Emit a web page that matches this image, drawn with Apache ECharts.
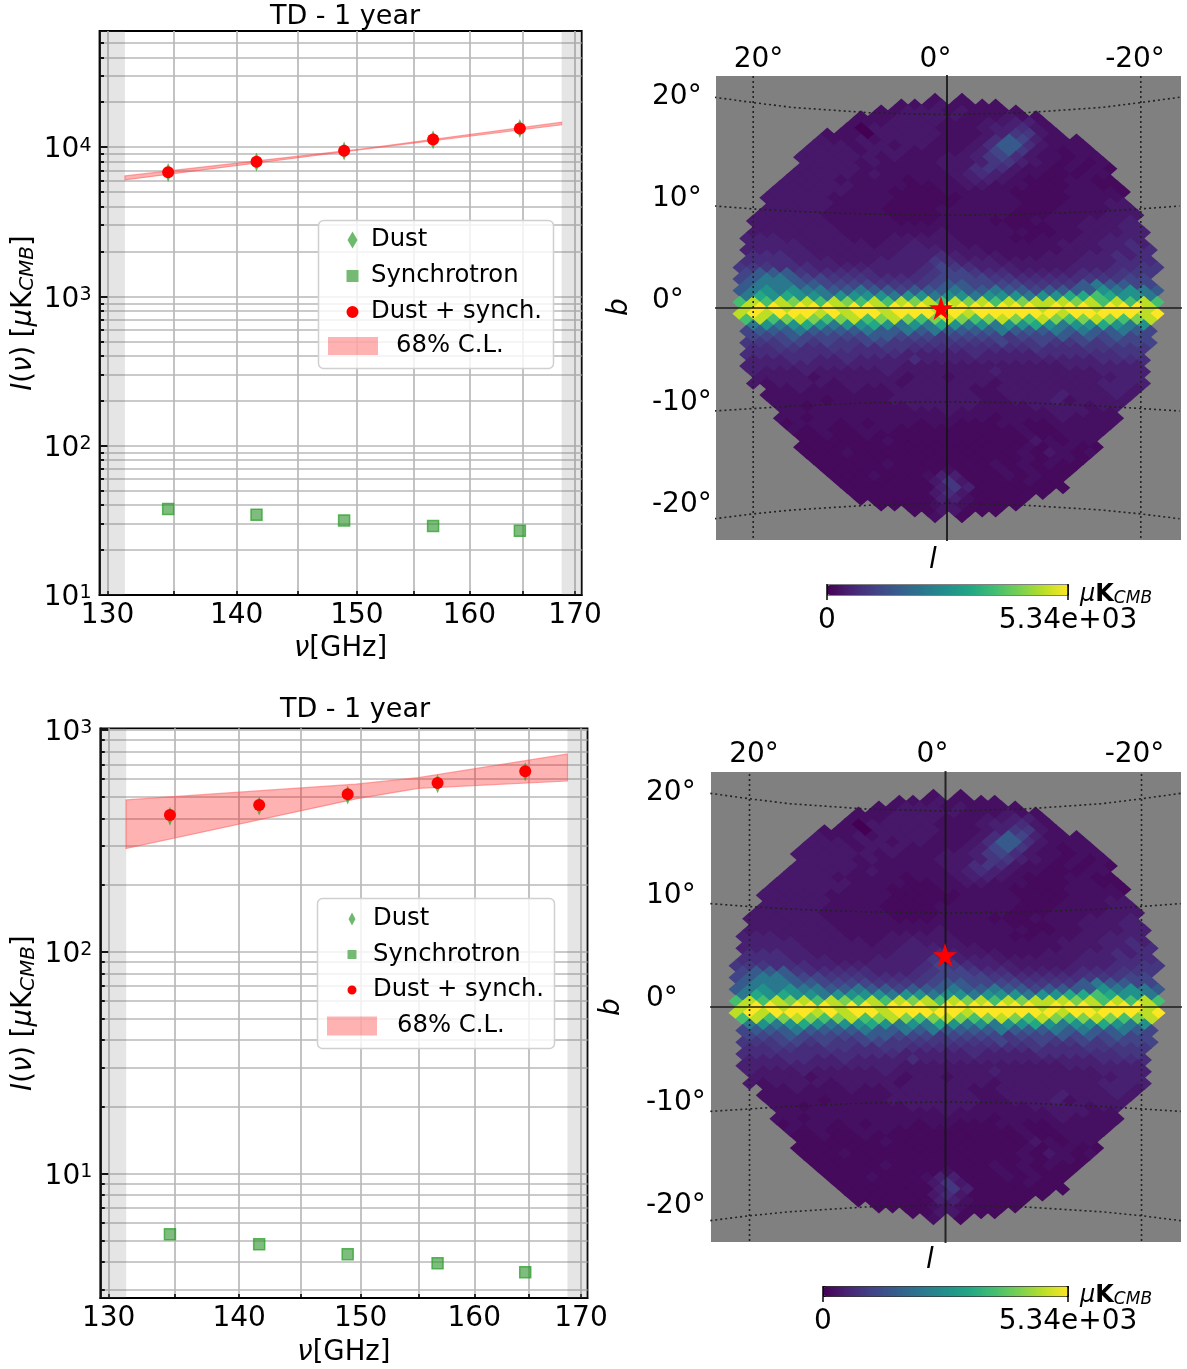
<!DOCTYPE html>
<html><head><meta charset="utf-8">
<style>html,body{margin:0;padding:0;background:#fff}#c{width:1187px;height:1369px}</style>
<script src="https://cdn.jsdelivr.net/npm/echarts@6/dist/echarts.min.js"></script>
</head><body><div id="c"></div>
<script>
// ---------- spectra ----------
const freqs = [134.6, 141.6, 148.9, 156.7, 164.7];
const dust1 = [6762, 7945, 9430, 11230, 13313];
const synch1 = [37.7, 34.5, 31.6, 29.0, 26.9];
const total1 = [6800, 7980, 9460, 11260, 13340];
const dust2 = [409, 454, 509, 573, 648];
const synch2 = [5.33, 4.81, 4.34, 3.95, 3.6];
const total2 = [414, 459, 513, 577, 652];
const clFreq1 = [131.3, 150.5, 168.7];
const clUpper1 = [6414, 9750, 14710];
const clLower1 = [6032, 9650, 14125];
const clFreq2 = [131.28, 149.6, 155, 168.7];
const clUpper2 = [484, 570, 610, 780];
const clLower2 = [292, 489, 546, 589];
const xTicks = [130,135,140,145,150,155,160,165,170];
const xLabels = [130,140,150,160,170];
const yTicks1 = [10,20,30,40,50,60,70,80,90,100,200,300,400,500,600,700,800,900,1000,2000,3000,4000,5000,6000,7000,8000,9000,10000,20000,30000,40000,50000];
const yTicks2 = [3,4,5,6,7,8,9,10,20,30,40,50,60,70,80,90,100,200,300,400,500,600,700,800,900,1000];
const yMajor1 = [10,100,1000,10000];
const yMajor2 = [10,100,1000];
const lowBand = [129.38, 131.3];
const highBand = [168.7, 170.65];
// ---------- sky map: level of each pixel, row by row (north to south), [first column, levels] ----------
const levelValues = [0,130,230,340,480,670,850,1090,1500,2140,2670,3200,3740,4270,4800,5340];
const mapRows = [
[15,"2 2"],[12,"22232222"],[11,"22333232222"],[9,"22233333222322"],[9,"222333322233442"],
[8,"2033333222344532"],[7,"222033333222346632"],[6,"32232333322235874222"],[6,"333233233222358853222"],
[5,"3333233322223478632122"],[5,"33333323222334675322122"],[5,"33332322223334664321212"],
[5,"333332222223356532212121"],[4,"333332322222345432211122"],[4,"3333222221222344321112211"],
[3,"33333322221122332221112211"],[3,"333333222111122222111122221"],[2,"333332222211111222211112222"],
[3,"333332222111112222211122233"],[2,"3333322221111222222111222233"],[2,"33333222221111222221112222333"],
[1,"33333322222111222211122223334"],[2,"33333322222222222221112233344"],[1,"333333322222223222222112233344"],
[1,"444333332223333322221122233444"],[1,"444433333233433322222223334454"],[1,"4444433333334443332222223334455"],
[1,"555443333334445433322233344545"],[1,"5555444333444465444333333444555"],[0,"66655544444444576544433334445566"],
[1,"7888655555444567765544444555666"],[0,"7899877666555567777665555566677"],[1,"8999887777666678877776666898877"],
[0,"89a9a9988988788898898878888a9a98"],[1,"9babaa9aaaa9aa9aa9aaa9aabbcbaa9"],[0,"cecedecedcecedecedecedeeedececec"],
[1,"effefffeffefffefffffffefffefffe"],[0,"efefffefeffefffffeffffffefffffef"],[1,"cecdedcdecdedcdedcdedcedcdedcde"],
[1,"9a9aba9aaba9a9ba9a9aaba9aaba9a"],[1,"7888988889889898888988898988987"],[1,"777877777887776777767778787877"],
[1,"6667767667766666666766766767777"],[1,"556655665566555555555655566666"],[1,"555555555555444445444455555566"],
[1,"444554454444544444444444445555"],[1,"444444444444333333333333444444"],[1,"433343333343333333433333334444"],
[2,"33332333333233233333333333344"],[1,"323333233332333333233333334444"],[3,"2232223223333332233333333443"],
[2,"2222222222333333223333433343"],[3,"222212222333333322333423333"],[3,"22122222223333322223333233"],
[4,"2222222222223222222233322"],[3,"22122222222222221222232222"],[4,"1222121222122111221122222"],
[4,"212112221111111112112222"],[5,"11211211111111111211222"],[5,"1111112111111111132122"],
[5,"11111111111111111212211"],[5,"1112111111111111213212"],[6,"111111111111111121221"],
[6,"11111211111112121211"],[7,"1111111112111212111"],[7,"111211124411121211"],[8,"11111113631111211"],
[8,"11111114641111111"],[9,"111111353111111"],[9,"1111114421111"],[11,"11112321111"],[13,"1133111"],[15,"2 1"]
];
const viridis = ['#440154','#482475','#414487','#355f8d','#2a788e','#21918c','#22a884','#44bf70','#7ad151','#bddf26','#fde725'];
const mapMax = 5340;
const parallelLon = [24,20,16,8,0,-8,-16,-20,-24];
const par20 = [21.8,21.25,20.75,20.2,20,20.2,20.75,21.25,21.8];
const par10 = [10.55,10.25,10.0,9.7,9.6,9.7,10.0,10.25,10.55];
const parM10 = [-10.65,-10.4,-10.15,-9.8,-9.7,-9.8,-10.15,-10.4,-10.65];
const parM20 = [-21.8,-21.3,-20.9,-20.4,-20.2,-20.4,-20.9,-21.3,-21.8];
const meridians = [20,-20];
const star1 = [0.62, 0];
const star2 = [0.05, 5.3];
const lonLabels = ['20°','0°','-20°'];
const latLabels = ['20°','10°','0°','-10°','-20°'];
const cbLabels = ['0','5.34e+03'];

const FONT = 'DejaVu Sans', FS = 28;
const GREEN = 'rgba(44,160,44,0.6)';
const STAR = 'path://M50 0L61.8 36.3L100 36.3L69.1 58.8L80.9 95.1L50 72.6L19.1 95.1L30.9 58.8L0 36.3L38.2 36.3Z';

const cells = [];
mapRows.forEach(([start, txt], i) => {
  for (let j = 0; j < txt.length; j++) {
    if (txt[j] === ' ') continue;
    const c = start + j - 16 + (i % 2 ? 0.5 : 0);
    cells.push([-(0.155 + 1.39 * c), 21.6 - 0.6 * i, levelValues[parseInt(txt[j], 16)]]);
  }
});

const supLabel = v => '10{s|' + Math.round(Math.log10(v)) + '}';
const yNameRich = {
  n:{fontFamily:FONT,fontSize:27.5,color:'#000'},
  i:{fontFamily:FONT,fontSize:27.5,fontStyle:'italic',color:'#000'},
  u:{fontFamily:FONT,fontSize:20,fontStyle:'italic',color:'#000',verticalAlign:'bottom',padding:[8,0,0,0]}
};
const yName = '{i|I}{n|(}{i|ν}{n|) [}{i|μ}{n|K}{u|CMB}{n|]}';
const xName = '{i|ν}{n|[GHz]}';
const xNameRich = {n:{fontFamily:FONT,fontSize:27.5,color:'#000'},i:{fontFamily:FONT,fontSize:27.5,fontStyle:'italic',color:'#000'}};

const grids = [
  {left:99.5,top:31,width:482.2,height:564,show:true,borderColor:'#000',borderWidth:1.8,backgroundColor:'#fff'},
  {left:100.3,top:728.3,width:487.2,height:569.7,show:true,borderColor:'#000',borderWidth:1.8,backgroundColor:'#fff'},
  {left:716,top:76,width:465,height:464,show:true,borderWidth:0,backgroundColor:'#808080'},
  {left:711,top:772,width:470,height:470,show:true,borderWidth:0,backgroundColor:'#808080'}
];
const grey = {color:'#b9b9b9',width:1.7};
function specX(i, nameGap, min, max) {
  return {gridIndex:i,type:'log',logBase:10,min,max,name:xName,nameLocation:'middle',nameGap,
    nameTextStyle:{rich:xNameRich},
    axisLine:{show:true,lineStyle:{color:'#000',width:1.8}},
    axisTick:{show:true,inside:true,length:4,customValues:xTicks,lineStyle:{color:'#000',width:1.5}},
    axisLabel:{show:true,customValues:xLabels,margin:7,fontFamily:FONT,fontSize:FS,color:'#000',hideOverlap:false,showMinLabel:true,showMaxLabel:true,formatter:v=>String(Math.round(v))},
    splitLine:{show:true,lineStyle:grey},minorTick:{show:false},minorSplitLine:{show:false}};
}
function specY(i, min, max, ticks, labels) {
  return {gridIndex:i,type:'log',logBase:10,position:'left',min,max,name:yName,nameLocation:'middle',nameGap:62,nameRotate:90,
    nameTextStyle:{rich:yNameRich},
    axisLine:{show:true,onZero:false,lineStyle:{color:'#000',width:1.8}},
    axisTick:{show:true,inside:true,length:4.5,customValues:ticks,lineStyle:{color:'#000',width:2}},
    axisLabel:{show:true,customValues:labels,margin:8,padding:[6,0,0,0],fontFamily:FONT,fontSize:FS,color:'#000',formatter:supLabel,showMinLabel:true,showMaxLabel:true,
      rich:{s:{fontFamily:FONT,fontSize:19,color:'#000',verticalAlign:'top',padding:[0,0,8,0]}}},
    splitLine:{show:true,lineStyle:grey},minorTick:{show:false},minorSplitLine:{show:false}};
}
function specYMajor(i, min, max, labels) {
  return {gridIndex:i,type:'log',logBase:10,position:'left',min,max,
    axisLine:{show:false,onZero:false},axisLabel:{show:false},splitLine:{show:false},
    axisTick:{show:true,inside:true,length:8,customValues:labels,lineStyle:{color:'#000',width:2}}};
}
const xAxes = [specX(0,40,129.4,170.65), specX(1,41,129.38,170.63)];
const yAxes = [specY(0,10,60000,yTicks1,yMajor1), specY(1,2.753,1018,yTicks2,yMajor2)];
function mapAxes(i, l0, l1, b0, b1) {
  xAxes.push({gridIndex:i,type:'value',min:l1,max:l0,inverse:true,show:false,axisLine:{show:false},splitLine:{show:false}});
  yAxes.push({gridIndex:i,type:'value',min:b1,max:b0,show:false,splitLine:{show:false}});
}
mapAxes(2, 23.84, -24.15, 24, -24);
mapAxes(3, 23.93, -24.03, 23.98, -23.98);
yAxes.push(specYMajor(0,10,60000,yMajor1), specYMajor(1,2.753,1018,yMajor2));

const series = [];
function specSeries(i, dust, synch, total, cf, cu, cl) {
  const pts = cf.map((f,k)=>[f,cu[k]]).concat(cf.map((f,k)=>[f,cl[k]]).reverse());
  series.push({name:'68% C.L.',type:'custom',xAxisIndex:i,yAxisIndex:i,silent:true,clip:true,
    data:[[cf[0],cu[0]]],encode:{x:0,y:1},
    renderItem:(p,api)=>({type:'polygon',shape:{points:pts.map(q=>api.coord(q))},
      style:{fill:'rgba(255,0,0,0.3)',stroke:'rgba(255,90,90,0.55)',lineWidth:1.2}}),
    markArea:{silent:true,itemStyle:{color:'rgba(110,110,110,0.18)'},
      data:[[{xAxis:lowBand[0]},{xAxis:lowBand[1]}],[{xAxis:highBand[0]},{xAxis:highBand[1]}]]}});
  series.push({name:'Dust',type:'scatter',xAxisIndex:i,yAxisIndex:i,symbol:'diamond',symbolSize:[8,19],silent:true,
    data:freqs.map((f,k)=>[f,dust[k]]),itemStyle:{opacity:1,color:'rgba(44,160,44,0.75)'}});
  series.push({name:'Synchrotron',type:'scatter',xAxisIndex:i,yAxisIndex:i,symbol:'rect',symbolSize:11,silent:true,
    data:freqs.map((f,k)=>[f,synch[k]]),itemStyle:{opacity:1,color:'rgba(40,145,40,0.6)',borderColor:'rgba(44,160,44,0.75)',borderWidth:1.5}});
  series.push({name:'Dust + synch.',type:'scatter',xAxisIndex:i,yAxisIndex:i,symbol:'circle',symbolSize:12,silent:true,
    data:freqs.map((f,k)=>[f,total[k]]),itemStyle:{opacity:1,color:'#ff0000'}});
}
specSeries(0,dust1,synch1,total1,clFreq1,clUpper1,clLower1);
specSeries(1,dust2,synch2,total2,clFreq2,clUpper2,clLower2);

const vms = [];
function mapSeries(i, star, sz, vmLeft, vmTop, vmLen) {
  vms.push({type:'continuous',seriesIndex:series.length,dimension:2,min:0,max:mapMax,orient:'horizontal',left:vmLeft,top:vmTop,
    itemWidth:10,itemHeight:vmLen,padding:0,text:null,calculable:false,hoverLink:false,borderColor:'#000',borderWidth:1,
    inRange:{color:viridis},textStyle:{color:'transparent',fontSize:1}});
  series.push({name:'map',type:'scatter',xAxisIndex:i,yAxisIndex:i,data:cells,symbol:'diamond',symbolSize:[14.6*sz,12.8*sz],silent:true,
    progressive:0,large:false,itemStyle:{opacity:1,borderWidth:0}});
  const ln = (data,color,width,type)=>series.push({type:'line',xAxisIndex:i,yAxisIndex:i,data,symbol:'none',silent:true,z:3,smooth:false,
    lineStyle:{color,width,type}});
  const dots=[2,3];
  [par20,par10,parM10,parM20].forEach(p=>ln(parallelLon.map((l,k)=>[l,p[k]]),'#222',1.6,dots));
  meridians.forEach(l=>ln([[l,-30],[l,30]],'#222',1.6,dots));
  ln([[0,-30],[0,30]],'rgba(20,20,20,0.85)',2,'solid');
  ln([[-30,0],[30,0]],'rgba(20,20,20,0.7)',2,'solid');
  series.push({name:'star',type:'scatter',xAxisIndex:i,yAxisIndex:i,data:[star],symbol:STAR,symbolSize:24,silent:true,z:4,itemStyle:{opacity:1,color:'#ff0000'}});
}
mapSeries(2,star1,1,827,584.5,241);
mapSeries(3,star2,1.01,823,1286,245);

// legends (marker path padded with invisible corners so that marker keeps its size)
const cornerPath = (w,h)=>`M0 0L.01 0L0 .01Z M${w} ${h}L${w-.01} ${h}L${w} ${h-.01}Z `;
const iconDiamond = (w,h,cx,a,b)=>'path://'+cornerPath(w,h)+`M${cx-a} ${h/2}L${cx} ${h/2-b}L${cx+a} ${h/2}L${cx} ${h/2+b}Z`;
const iconSquare = (w,h,cx,a)=>'path://'+cornerPath(w,h)+`M${cx-a} ${h/2-a}H${cx+a}V${h/2+a}H${cx-a}Z`;
const iconCircle = (w,h,cx,r)=>'path://'+cornerPath(w,h)+`M${cx-r} ${h/2}A${r} ${r} 0 1 1 ${cx+r} ${h/2}A${r} ${r} 0 1 1 ${cx-r} ${h/2}Z`;
const legendText = {fontFamily:FONT,fontSize:24.3,color:'#000'};
const shiftText = Object.assign({padding:[5,0,0,0]},legendText);
const legends = [
  {left:328,top:228,orient:'vertical',itemWidth:38,itemHeight:24,itemGap:12,selectedMode:false,textStyle:shiftText,padding:0,
    data:[{name:'Dust',icon:iconDiamond(38,24,24.5,5,8.5),itemStyle:{color:'#6fb96f',borderWidth:0}},
          {name:'Synchrotron',icon:iconSquare(38,24,24.5,6),itemStyle:{color:'#74b974',borderWidth:0}},
          {name:'Dust + synch.',icon:iconCircle(38,24,24.5,6),itemStyle:{color:'#ff0000',borderWidth:0}}]},
  {left:328,top:334,orient:'vertical',itemWidth:50,itemHeight:18,selectedMode:false,padding:0,
    textStyle:Object.assign({},legendText,{padding:[7,0,0,13]}),
    data:[{name:'68% C.L.',icon:'rect',itemStyle:{color:'rgba(255,0,0,0.3)',borderWidth:0}}]},
  {left:327,top:907,orient:'vertical',itemWidth:41,itemHeight:24,itemGap:11.5,selectedMode:false,textStyle:shiftText,padding:0,
    data:[{name:'Dust',icon:iconDiamond(41,24,25,3.5,6.5),itemStyle:{color:'#6fb96f',borderWidth:0}},
          {name:'Synchrotron',icon:iconSquare(41,24,25,4.5),itemStyle:{color:'#74b974',borderWidth:0}},
          {name:'Dust + synch.',icon:iconCircle(41,24,25,4.5),itemStyle:{color:'#ff0000',borderWidth:0}}]},
  {left:327,top:1014,orient:'vertical',itemWidth:50,itemHeight:19,selectedMode:false,padding:0,
    textStyle:Object.assign({},legendText,{padding:[7,0,0,15]}),
    data:[{name:'68% C.L.',icon:'rect',itemStyle:{color:'rgba(255,0,0,0.3)',borderWidth:0}}]}
];
const T = (text,x,y,extra)=>({type:'text',x,y:y+3,z:10,style:Object.assign({text,fontFamily:FONT,fontSize:FS,fill:'#000',align:'left',verticalAlign:'middle'},extra||{})});
const graphic = [
  {type:'rect',z:3,shape:{x:318.5,y:220.5,width:235,height:148,r:5},style:{fill:'rgba(255,255,255,0.8)',stroke:'#d0d0d0',lineWidth:1.5}},
  {type:'rect',z:3,shape:{x:317.5,y:898.5,width:237,height:150,r:5},style:{fill:'rgba(255,255,255,0.8)',stroke:'#d0d0d0',lineWidth:1.5}}
];
function mapText(topY, topX, latX, latY, bX, bY, lX, lY, cbL, cbR, cbY, unitX, unitY, cbBar) {
  lonLabels.forEach((t,k)=>graphic.push(T(t,topX[k],topY,{align:'center'})));
  latLabels.forEach((t,k)=>graphic.push(T(t,latX,latY[k])));
  graphic.push({type:'text',x:bX,y:bY+1,rotation:Math.PI/2,z:10,style:{text:'b',fontFamily:FONT,fontSize:FS,fontStyle:'italic',fill:'#000',align:'center',verticalAlign:'middle'}});
  graphic.push(T('l',lX,lY,{align:'center',fontStyle:'italic'}));
  graphic.push(T(cbLabels[0],cbL,cbY,{align:'center'}));
  graphic.push(T(cbLabels[1],cbR,cbY,{align:'center'}));
  [cbL,cbR].forEach(x=>graphic.push({type:'line',z:10,shape:{x1:x,y1:cbBar,x2:x,y2:cbBar+16},style:{stroke:'#000',lineWidth:1.5}}));
  graphic.push({type:'text',x:unitX,y:unitY,z:10,style:{rich:{m:{fontFamily:FONT,fontSize:24,fontStyle:'italic',fill:'#000'},k:{fontFamily:FONT,fontSize:24,fontWeight:'bold',fill:'#000'},c:{fontFamily:FONT,fontSize:17,fontStyle:'italic',fill:'#000',verticalAlign:'bottom',padding:[8,0,0,0]}},
    text:'{m|μ}{k|K}{c|CMB}',verticalAlign:'middle',align:'left'}});
}
mapText(57,[758.5,935.5,1135],652,[94,196,298,400,502],620,306,933,558,827,1068,618,1080,595,584);
mapText(752,[754,932.5,1134.5],646,[790,893,996,1100,1203],612,1006,930,1258,823,1068,1319,1080,1296,1286);

const option = {
  animation:false,
  backgroundColor:'#fff',
  title:[{text:'TD - 1 year',left:345,top:3,padding:0,textAlign:'center',textStyle:{fontFamily:FONT,fontSize:27,fontWeight:'normal',color:'#000'}},
         {text:'TD - 1 year',left:355,top:696,padding:0,textAlign:'center',textStyle:{fontFamily:FONT,fontSize:27,fontWeight:'normal',color:'#000'}}],
  grid:grids, xAxis:xAxes, yAxis:yAxes, series, visualMap:vms, legend:legends, graphic
};
const chart = echarts.init(document.getElementById('c'),null,{renderer:'canvas'});
chart.setOption(option);
</script></body></html>
